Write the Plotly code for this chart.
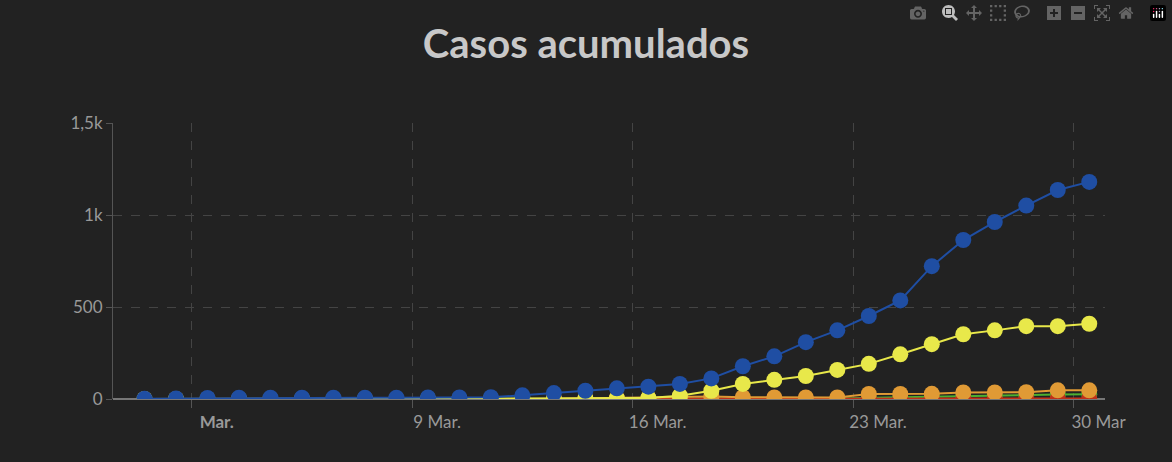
import plotly.graph_objects as go
import pandas as pd

dates = pd.date_range("2020-02-29 12:00", "2020-03-30 12:00", freq="D")
blue = [2, 3, 6, 7, 7, 7, 7, 7, 7, 8, 8, 10, 20, 32, 45, 58, 67, 82, 112, 178, 232, 309, 373, 451, 536, 722, 864, 962, 1051, 1136, 1180]
yellow = [0, 0, 0, 0, 0, 0, 0, 0, 0, 0, 0, 0, 2, 3, 4, 5, 6, 18, 45, 82, 104, 125, 158, 191, 243, 298, 352, 373, 396, 396, 409]
orange = [None]*13 + [1, 3, 4, 5, 8, 13, 10, 8, 8, 8, 27, 27, 28, 36, 36, 37, 47, 47]
red = [None]*13 + [0, 0, 0, 1, 1, 2, 2, 2, 3, 3, 3, 3, 3, 3, 3, 3, 3, 3]
green = [None]*22 + [3, 8, 10, 12, 16, 18, 20, 24, 26]

fig = go.Figure()
for name, vals, col in [("green", green, "#4caf30"), ("red", red, "#c0301a"),
                        ("orange", orange, "#e09a35"), ("yellow", yellow, "#e8e84a"),
                        ("blue", blue, "#1f4ea3")]:
    fig.add_trace(go.Scatter(x=dates, y=vals, mode="lines+markers", name=name,
                             line=dict(color=col, width=2), marker=dict(color=col, size=16),
                             connectgaps=False))

fig.update_layout(
    width=1172, height=462, paper_bgcolor="#222222", plot_bgcolor="#222222",
    showlegend=False, margin=dict(l=113, r=67, t=123, b=63),
    title=dict(text="<b>Casos acumulados</b>", x=0.5, y=0.905, xanchor="center", yanchor="middle",
               font=dict(family="Lato", size=40, color="#c8c8c8")),
    font=dict(family="Lato", color="#999999", size=17),
)
fig.update_xaxes(type="date", range=["2020-02-28 12:00", "2020-03-31 00:00"],
                 tickvals=pd.to_datetime(["2020-03-02", "2020-03-09", "2020-03-16", "2020-03-23", "2020-03-30"]),
                 ticktext=["<b>Mar.</b>", "9 Mar.", "16 Mar.", "23 Mar.", "30 Mar"],
                 ticklabelshift=25, showgrid=True, gridcolor="#444444", griddash="dash",
                 ticks="outside", tickcolor="#555555", ticklen=8, showline=False, zeroline=False)
fig.update_yaxes(range=[0, 1500], tickvals=[0, 500, 1000, 1500], ticktext=["0", "500", "1k", "1,5k"],
                 showgrid=True, gridcolor="#444444", griddash="dash", zeroline=True,
                 zerolinecolor="#777777", zerolinewidth=2, showline=True, linecolor="#555555",
                 ticks="outside", tickcolor="#555555", ticklen=6)
fig.write_html("out.html",
               post_script="document.body.style.margin='0';document.body.style.background='#222222';")
